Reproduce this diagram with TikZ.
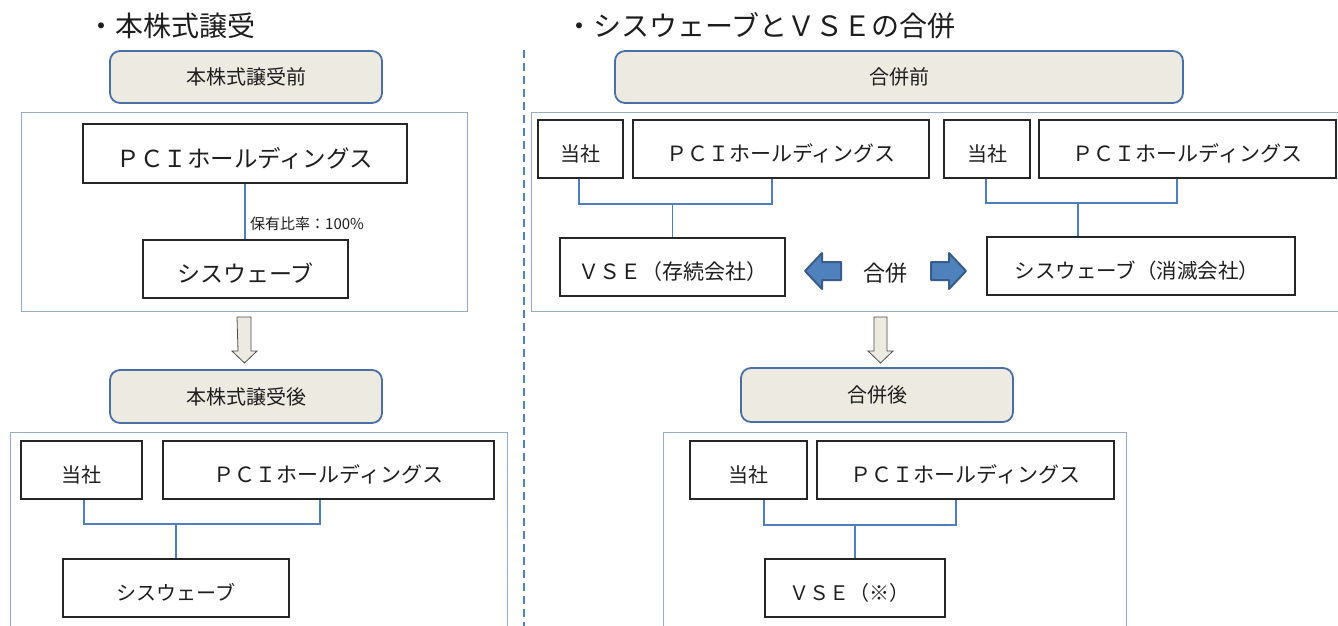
\documentclass[tikz,border=0pt]{standalone}
\usepackage{fontspec}
\setmainfont{Noto Sans CJK JP}
\newcommand\fsz[1]{\fontsize{#1}{#1}\selectfont}
\definecolor{labfill}{HTML}{EDEBE1}
\definecolor{labline}{HTML}{4A6FA5}
\definecolor{outline}{HTML}{95ABCB}
\definecolor{conn}{HTML}{4F7EBE}
\definecolor{mfill}{HTML}{4F81BD}
\definecolor{mline}{HTML}{385D8A}
\definecolor{txt}{HTML}{1E1E1E}
\begin{document}
\begin{tikzpicture}[x=1pt,y=-1pt,
  box/.style={draw=black!85,line width=1.2pt,fill=white,inner sep=0pt,text=txt,font=\fsz{20},text height=24pt,text depth=0pt},
  bigtext/.style={font=\fsz{#1},text height=27pt},
  lab/.style={draw=labline,line width=1.8pt,fill=labfill,rounded corners=10pt,inner sep=0pt,text=txt,font=\fsz{20}},
  outerbox/.style={draw=outline,line width=1pt},
  link/.style={draw=conn,line width=1.8pt},
  downarrow/.style={draw=black!70,line width=0.8pt,fill=labfill},
  mergearrow/.style={draw=mline,line width=2pt,fill=mfill,line join=round},
  title/.style={anchor=west,inner sep=0pt,text=txt,font=\fsz{28}}]
\clip (0,0) rectangle (1338,626);
\fill[white] (0,0) rectangle (1338,626);

% titles
\node[title] (t1) at (87,26) {・本株式譲受};
\node[title] (t2) at (565,26) {・シスウェーブとＶＳＥの合併};

% dashed separator
\coordinate (dtop) at (524,50);
\coordinate (dbot) at (524,630);
\draw[draw=mfill,line width=1.2pt,dash pattern=on 8pt off 5pt] (dtop) -- (dbot);

% ---------- left side ----------
\node[lab,minimum width=272,minimum height=52] (lab1) at (246,77) {本株式譲受前};
\draw[outerbox] (21,112) rectangle (467,311);
\node[box,bigtext=23.5,minimum width=324,minimum height=59] (pci1) at (245,153.5) {ＰＣＩホールディングス};
\node[box,bigtext=23,minimum width=205,minimum height=58] (sys1) at (245.5,269) {シスウェーブ};
\draw[link] (pci1.south) -- (pci1.south |- sys1.north);
\node[anchor=west,inner sep=0pt,text=txt,font=\fsz{15}] (pct) at (250,224) {保有比率：100\%};

\draw[downarrow] (237,317) -- (251,317) -- (251,351) -- (257,351) -- (244.5,363) -- (232,351) -- (238,351) -- cycle;

\node[lab,minimum width=272,minimum height=53] (lab2) at (246,396.5) {本株式譲受後};
\draw[outerbox] (10,432) rectangle (507,640);
\node[box,minimum width=121,minimum height=58] (tou2) at (81.5,470) {当社};
\node[box,font=\fsz{21},minimum width=331,minimum height=58] (pci2) at (328.5,470) {ＰＣＩホールディングス};
\node[box,minimum width=226,minimum height=58] (sys2) at (176,588) {シスウェーブ};
\coordinate (j2) at (176,524);
\draw[link] ([xshift=2.5pt]tou2.south) |- (j2) -| ([xshift=-8.5pt]pci2.south);
\draw[link] (j2) -- (sys2.north);

% ---------- right side ----------
\node[lab,minimum width=568,minimum height=52] (lab3) at (899,77) {合併前};
\draw[outerbox] (531,112) rectangle (1350,311);
\node[box,minimum width=85,minimum height=58] (tou3) at (580.5,149) {当社};
\node[box,font=\fsz{21},minimum width=296,minimum height=58] (pci3) at (781,149) {ＰＣＩホールディングス};
\node[box,minimum width=86,minimum height=58] (tou4) at (987,149) {当社};
\node[box,font=\fsz{21},minimum width=297,minimum height=58] (pci4) at (1187.5,149) {ＰＣＩホールディングス};
\node[box,font=\fsz{21},minimum width=225,minimum height=58] (vse) at (672.5,267) {ＶＳＥ（存続会社）};
\node[box,font=\fsz{20.5},minimum width=308,minimum height=58] (sysm) at (1141,266) {シスウェーブ（消滅会社）\hspace*{8pt}};
\coordinate (ja) at (672.5,204);
\draw[link] ([xshift=-1.5pt]tou3.south) |- (ja) -| ([xshift=-9pt]pci3.south);
\draw[link] (ja) -- (vse.north);
\coordinate (jb) at (1078,203);
\draw[link] ([xshift=-1pt]tou4.south) |- (jb) -| ([xshift=-10.5pt]pci4.south);
\draw[link] (jb) -- (jb |- sysm.north);

% merge arrows and label
\draw[mergearrow] (805,271) -- (822,253) -- (822,262) -- (841,262) -- (841,280) -- (822,280) -- (822,289) -- cycle;
\node[inner sep=0pt,text=txt,font=\fsz{22}] (merge) at (885,273) {合併};
\draw[mergearrow] (966,271) -- (949,253) -- (949,262) -- (931,262) -- (931,280) -- (949,280) -- (949,289) -- cycle;

\draw[downarrow] (874,317) -- (887,317) -- (887,351) -- (893,351) -- (880.5,363) -- (868,351) -- (874,351) -- cycle;

\node[lab,minimum width=272,minimum height=54] (lab4) at (877,395) {合併後};
\draw[outerbox] (663,432) rectangle (1126,640);
\node[box,minimum width=117,minimum height=58] (tou5) at (748.5,470) {当社};
\node[box,font=\fsz{21},minimum width=297,minimum height=58] (pci5) at (965.5,470) {ＰＣＩホールディングス};
\node[box,minimum width=180,minimum height=58] (vse2) at (855,588) {ＶＳＥ（※）\hspace*{12pt}};
\coordinate (jc) at (855,525);
\draw[link] ([xshift=15.5pt]tou5.south) |- (jc) -| ([xshift=-9.5pt]pci5.south);
\draw[link] (jc) -- (vse2.north);
\end{tikzpicture}
\end{document}
